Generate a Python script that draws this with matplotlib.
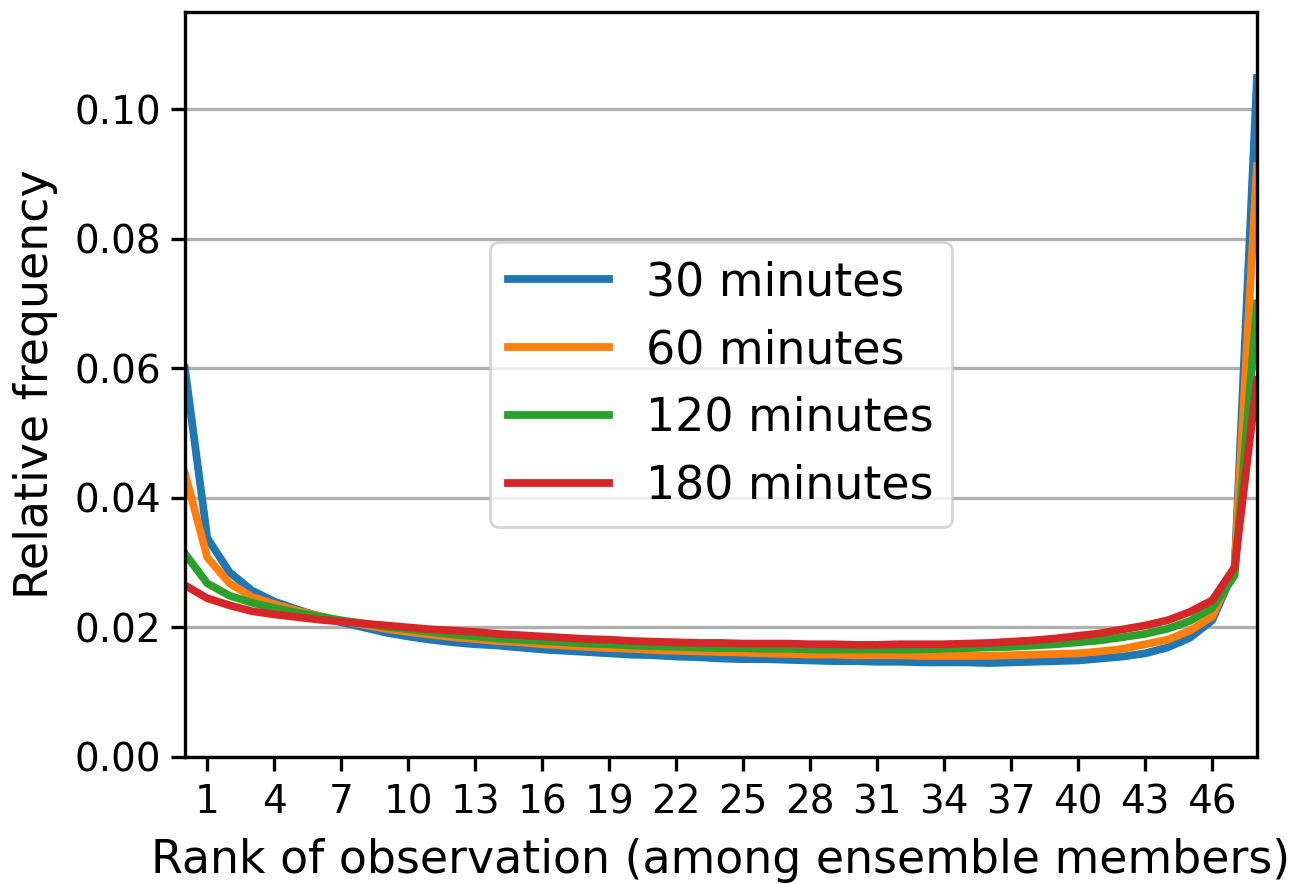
import numpy as np
import matplotlib
matplotlib.use("Agg")
import matplotlib.pyplot as plt

ranks = np.arange(49)
lead_labels = ['30 minutes', '60 minutes', '120 minutes', '180 minutes']

freq_30 = [0.0600, 0.0338, 0.0285, 0.0257, 0.0240, 0.0228, 0.0217, 0.0208, 0.0200, 0.0192,
           0.0186, 0.0181, 0.0177, 0.0174, 0.0172, 0.0169, 0.0166, 0.0164, 0.0162, 0.0160,
           0.0158, 0.0157, 0.0155, 0.0154, 0.0152, 0.0151, 0.0151, 0.0150, 0.0149, 0.0148,
           0.0148, 0.0147, 0.0147, 0.0146, 0.0146, 0.0146, 0.0145, 0.0146, 0.0147, 0.0148,
           0.0149, 0.0152, 0.0155, 0.0160, 0.0169, 0.0184, 0.0211, 0.0290, 0.1048]
freq_60 = [0.0438, 0.0308, 0.0268, 0.0247, 0.0236, 0.0226, 0.0218, 0.0210, 0.0204, 0.0198,
           0.0193, 0.0189, 0.0185, 0.0182, 0.0179, 0.0177, 0.0174, 0.0172, 0.0170, 0.0168,
           0.0167, 0.0165, 0.0164, 0.0163, 0.0162, 0.0161, 0.0160, 0.0159, 0.0158, 0.0158,
           0.0157, 0.0157, 0.0157, 0.0156, 0.0156, 0.0156, 0.0156, 0.0157, 0.0158, 0.0159,
           0.0160, 0.0163, 0.0167, 0.0174, 0.0181, 0.0195, 0.0217, 0.0293, 0.0912]
freq_120 = [0.0314, 0.0268, 0.0249, 0.0238, 0.0230, 0.0223, 0.0217, 0.0211, 0.0206, 0.0201,
            0.0197, 0.0193, 0.0189, 0.0186, 0.0183, 0.0181, 0.0179, 0.0177, 0.0175, 0.0174,
            0.0172, 0.0171, 0.0170, 0.0169, 0.0168, 0.0168, 0.0167, 0.0167, 0.0166, 0.0166,
            0.0166, 0.0166, 0.0166, 0.0166, 0.0167, 0.0168, 0.0169, 0.0170, 0.0172, 0.0174,
            0.0177, 0.0180, 0.0185, 0.0190, 0.0198, 0.0210, 0.0230, 0.0280, 0.0700]
freq_180 = [0.0265, 0.0245, 0.0234, 0.0225, 0.0220, 0.0216, 0.0212, 0.0209, 0.0206, 0.0203,
            0.0200, 0.0197, 0.0195, 0.0193, 0.0190, 0.0188, 0.0186, 0.0184, 0.0182, 0.0181,
            0.0179, 0.0178, 0.0177, 0.0176, 0.0176, 0.0175, 0.0175, 0.0175, 0.0174, 0.0174,
            0.0173, 0.0173, 0.0174, 0.0174, 0.0174, 0.0175, 0.0176, 0.0178, 0.0180, 0.0183,
            0.0187, 0.0191, 0.0197, 0.0203, 0.0211, 0.0224, 0.0242, 0.0293, 0.0582]

xticks = np.arange(1, 47, 3)

fig = plt.figure(figsize=(6.535, 4.42), dpi=200)
ax = fig.add_axes([0.1415, 0.1437, 0.8202, 0.8427])

for freq, label in zip([freq_30, freq_60, freq_120, freq_180], lead_labels):
    ax.plot(ranks, freq, lw=2.8, label=label)

ax.set_xlim(0, 48)
ax.set_ylim(0, 0.115)
ax.set_xticks(xticks)
ax.set_yticks(np.arange(0, 0.11, 0.02))
ax.yaxis.grid(True, color='#b0b0b0', lw=1.2)
ax.set_axisbelow(True)
for s in ax.spines.values():
    s.set_linewidth(1.2)
ax.tick_params(labelsize=14, length=5, width=1.2)
ax.tick_params(axis='x', pad=4.5)
ax.set_xlabel('Rank of observation (among ensemble members)', fontsize=16.5, labelpad=6)
ax.set_ylabel('Relative frequency', fontsize=16.5, labelpad=6)
ax.legend(loc='center', fontsize=16.5, handlelength=2.2)

fig.savefig('out.png', dpi=200)
